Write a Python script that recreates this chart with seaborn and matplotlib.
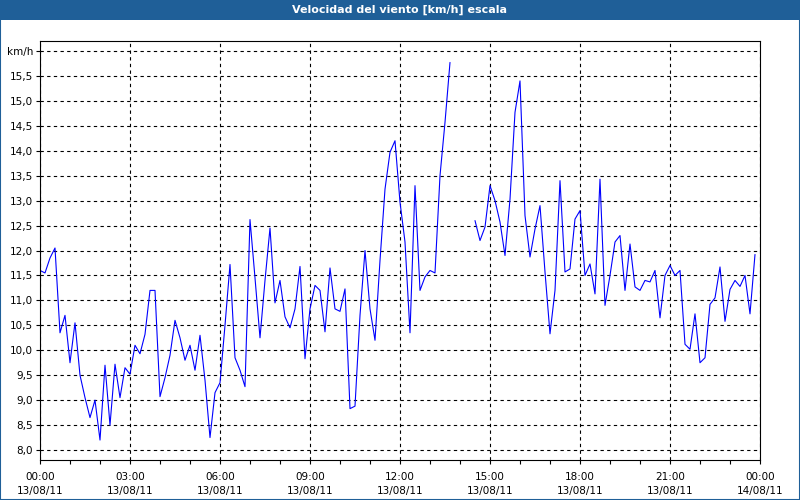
import numpy as np
import pandas as pd
import matplotlib
matplotlib.use("Agg")
import matplotlib.pyplot as plt
import matplotlib.patches as mpatches
import seaborn as sns

title = "Velocidad del viento [km/h] escala"
unit_label = "km/h"

# wind speed every 10 minutes, 13/08/11 00:00 .. 23:50 (NaN = missing)
speed = [
    11.6, 11.55, 11.85, 12.05, 10.35, 10.7, 9.75, 10.55, 9.5, 9.05,
    8.65, 9.0, 8.2, 9.7, 8.5, 9.72, 9.05, 9.65, 9.52, 10.1,
    9.93, 10.32, 11.2, 11.2, 9.07, 9.45, 9.9, 10.6, 10.25, 9.8,
    10.1, 9.6, 10.3, 9.4, 8.25, 9.15, 9.35, 10.5, 11.72, 9.85,
    9.6, 9.27, 12.62, 11.45, 10.25, 11.4, 12.45, 10.95, 11.4, 10.67,
    10.45, 10.83, 11.68, 9.83, 10.83, 11.3, 11.2, 10.37, 11.65, 10.83,
    10.78, 11.23, 8.83, 8.88, 10.7, 12.0, 10.83, 10.2, 11.8, 13.23,
    13.97, 14.2, 12.97, 12.17, 10.35, 13.3, 11.2, 11.47, 11.6, 11.55,
    13.5, 14.57, 15.77, np.nan, np.nan, np.nan, np.nan, 12.6, 12.2, 12.47,
    13.3, 13.0, 12.57, 11.9, 13.03, 14.77, 15.4, 12.7, 11.87, 12.43,
    12.9, 11.57, 10.33, 11.2, 13.4, 11.57, 11.63, 12.63, 12.8, 11.5,
    11.73, 11.13, 13.43, 10.9, 11.5, 12.17, 12.3, 11.2, 12.13, 11.27,
    11.2, 11.4, 11.37, 11.6, 10.65, 11.5, 11.7, 11.5, 11.6, 10.12,
    10.02, 10.73, 9.75, 9.85, 10.92, 11.05, 11.67, 10.58, 11.22, 11.4,
    11.28, 11.5, 10.73, 11.92,
]
hours = [i / 6 for i in range(len(speed))]

xtick_pos = [0, 3, 6, 9, 12, 15, 18, 21, 24]
xtick_labels = ["00:00\n13/08/11", "03:00\n13/08/11", "06:00\n13/08/11",
                "09:00\n13/08/11", "12:00\n13/08/11", "15:00\n13/08/11",
                "18:00\n13/08/11", "21:00\n13/08/11", "00:00\n14/08/11"]
ytick_pos = [8.0, 8.5, 9.0, 9.5, 10.0, 10.5, 11.0, 11.5, 12.0, 12.5,
             13.0, 13.5, 14.0, 14.5, 15.0, 15.5, 16.0]
ytick_labels = ["8,0", "8,5", "9,0", "9,5", "10,0", "10,5", "11,0", "11,5",
                "12,0", "12,5", "13,0", "13,5", "14,0", "14,5", "15,0",
                "15,5", unit_label]

df = pd.DataFrame({"h": hours, "v": speed})
# segment id so the gap of missing values is not bridged
df["seg"] = df["v"].isna().cumsum()
df = df.dropna()

sns.set_theme(style="white")
plt.rcParams["font.family"] = ["DejaVu Sans"]
plt.rcParams["text.color"] = "black"
plt.rcParams["xtick.color"] = "black"
plt.rcParams["ytick.color"] = "black"

fig = plt.figure(figsize=(8, 5), dpi=100)
fig.patch.set_facecolor("white")

bar_color = "#1f5f98"
fig.patches.append(mpatches.Rectangle((0, 0.96), 1, 0.04, transform=fig.transFigure,
                                      facecolor=bar_color, edgecolor="none", zorder=0))
fig.patches.append(mpatches.Rectangle((0.0006, 0.001), 0.9988, 0.998, transform=fig.transFigure,
                                      facecolor="none", edgecolor=bar_color, linewidth=1.5, zorder=0))
fig.text(0.5, 0.98, title, ha="center", va="center", color="white",
         fontsize=8, fontweight="bold")

ax = fig.add_axes([0.05, 0.08, 0.9, 0.838])
sns.lineplot(data=df, x="h", y="v", units="seg", estimator=None, ax=ax,
             color="#0000ff", linewidth=0.8)

ax.set_xlim(0, 24)
ax.set_ylim(7.8, 16.2)
ax.set_xticks(xtick_pos)
ax.set_xticklabels(xtick_labels, fontsize=7.5, linespacing=1.4)
ax.set_xticks(range(0, 25), minor=True)
ax.set_yticks(ytick_pos)
ax.set_yticklabels(ytick_labels, fontsize=7.5)
ax.set_xlabel("")
ax.set_ylabel("")
ax.tick_params(axis="x", which="both", direction="out", length=3, width=0.8,
               color="black", labelcolor="black", pad=6, bottom=True)
ax.tick_params(axis="y", direction="out", length=3, width=0.8, color="black",
               labelcolor="black", pad=2, left=True)
ax.grid(True, which="major", color="black", linestyle=(0, (3, 3)), linewidth=0.8)
for s in ax.spines.values():
    s.set_color("black")
    s.set_linewidth(0.8)
ax.set_facecolor("white")

fig.savefig("out.png", dpi=100)
